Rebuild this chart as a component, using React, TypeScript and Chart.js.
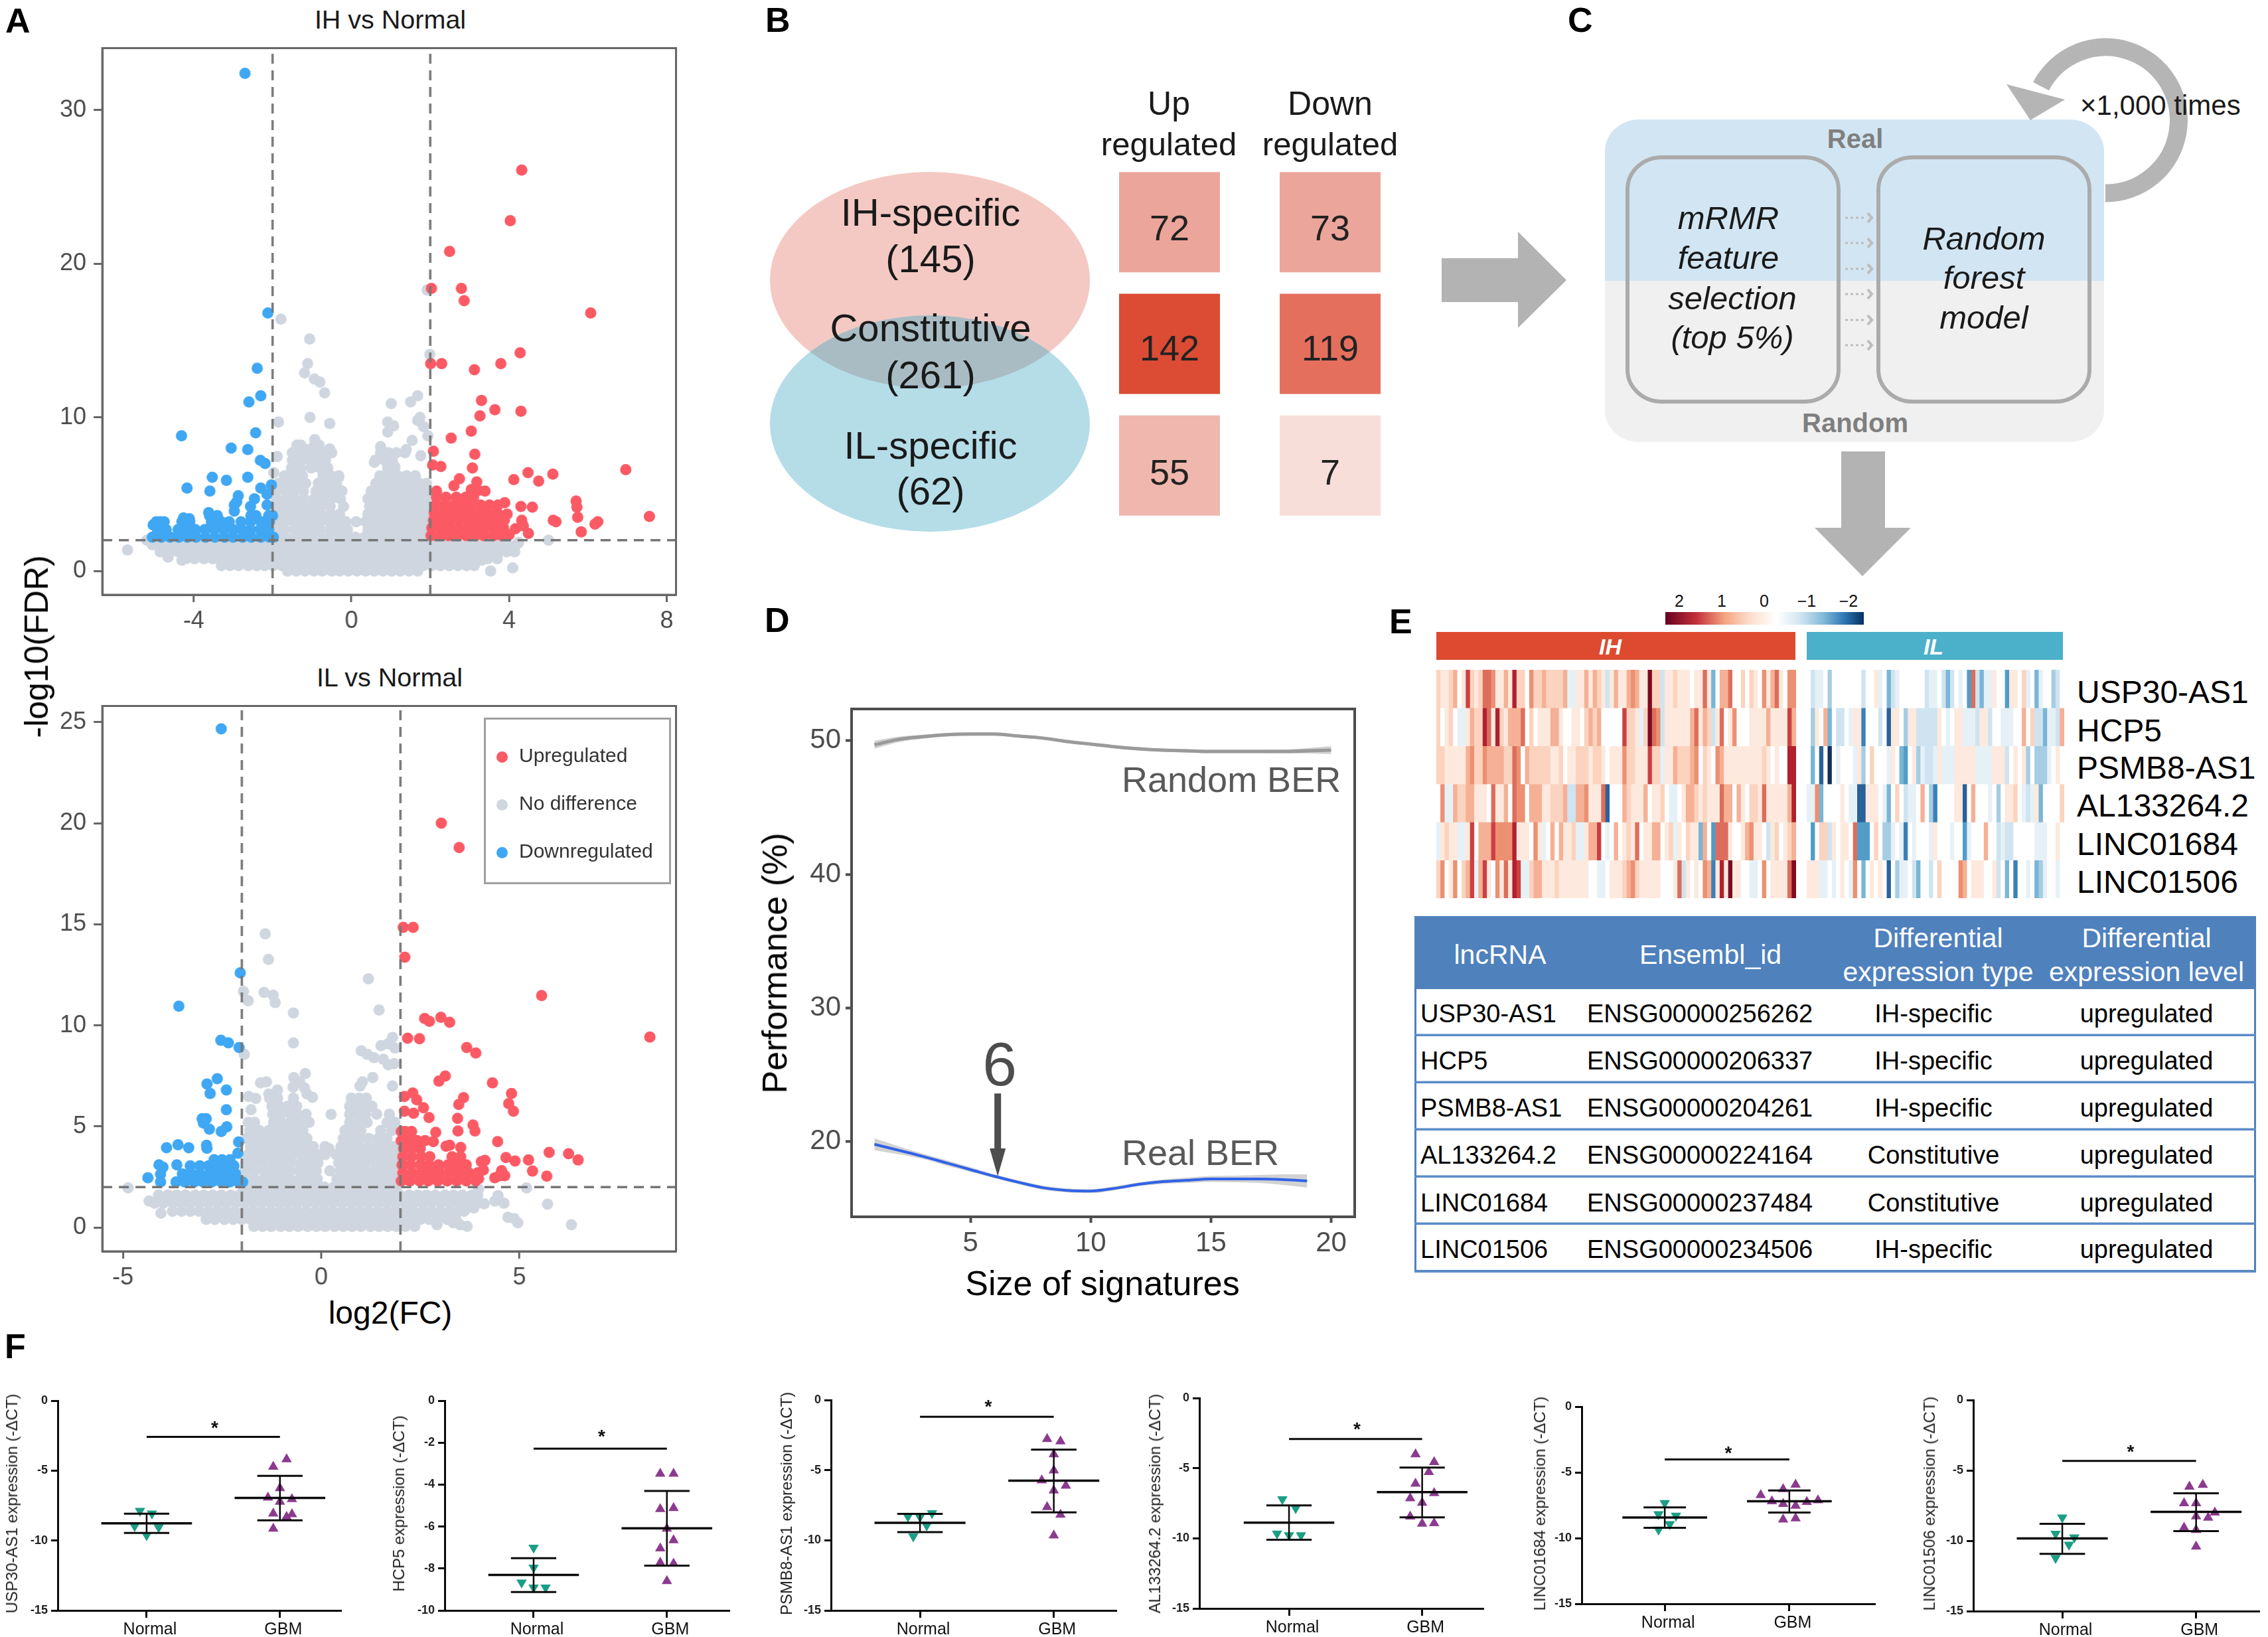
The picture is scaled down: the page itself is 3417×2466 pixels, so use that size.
import React, { useEffect, useRef } from "react";
import { Chart, registerables } from "chart.js";

Chart.register(...registerables);
Chart.defaults.font.family = "'Liberation Sans', Arial, sans-serif";

const FONT = "'Liberation Sans', Arial, sans-serif";

// ---------- Panel A: volcano plots (IH vs Normal) ----------
const greyRowsIH: [number, number[]][] = [
  [0, [-1.62,-1.4,-1.18,-.95,-.74,-.5,-.3,-.08,.14,.36,.58,.8,1.02,1.24,1.46,1.68]],
  [.35, [-3.3,-3.08,-2.86,-2.62,-2.4,-2.2,-1.98,-1.76,-1.52,-1.3,-1.08,-.86,-.62,-.4,-.18,.04,.26,.48,.7,.92,1.16,1.38,1.6,1.82,2.04,2.26,2.48,2.7,2.92,3.12]],
  [.8, [-4.2,-3.98,-3.74,-3.52,-3.3,-3.06,-2.84,-2.62,-2.4,-2.16,-1.94,-1.72,-1.5,-1.26,-1.04,-.82,-.6,-.36,-.14,.08,.3,.54,.76,.98,1.2,1.44,1.66,1.88,2.12,2.34,2.56,2.78,3,3.24,3.46,3.7]],
  [1.25, [-4.85,-4.62,-4.4,-4.18,-3.96,-3.72,-3.5,-3.28,-3.04,-2.82,-2.6,-2.38,-2.14,-1.92,-1.7,-1.48,-1.24,-1.02,-.8,-.58,-.34,-.12,.1,.32,.56,.78,1,1.22,1.46,1.68,1.9,2.14,2.36,2.58,2.8,3.04,3.26,3.48,3.72,3.94,4.14]],
  [1.7, [-5.05,-4.82,-4.6,-4.38,-4.14,-3.92,-3.7,-3.48,-3.24,-3.02,-2.8,-2.58,-2.34,-2.12,-1.9,-1.68,-1.44,-1.22,-1,-.78,-.54,-.32,-.1,.12,.36,.58,.8,1.02,1.26,1.48,1.7,1.92,2.16,2.38,2.6,2.82,3.06,3.28,3.5,3.72,3.96,4.18]],
  [2.2, [-1.92,-1.7,-1.46,-1.24,-1.02,-.8,-.56,-.34,-.12,.1,.34,.56,.78,1,1.24,1.46,1.68,1.9]],
  [2.7, [-1.9,-1.68,-1.44,-1.22,-1,-.78,-.54,-.32,-.1,.42,.64,.86,1.08,1.32,1.54,1.76,1.92]],
  [3.2, [-1.92,-1.7,-1.46,-1.24,-1.02,-.8,-.56,-.34,-.14,.12,.36,.6,.82,1.04,1.28,1.5,1.72,1.92]],
  [3.7, [-1.9,-1.66,-1.44,-1.2,-.98,-.76,-.52,-.3,.42,.64,.86,1.1,1.32,1.54,1.76,1.92]],
  [4.2, [-1.92,-1.7,-1.46,-1.24,-1,-.78,-.54,-.2,.46,.68,.9,1.12,1.36,1.58,1.8,1.94]],
  [4.7, [-1.9,-1.66,-1.44,-1.2,-.94,-.72,-.5,-.28,.42,.64,.86,1.08,1.3,1.52,1.74,1.92]],
  [5.2, [-1.92,-1.68,-1.46,-1.22,-.9,-.68,-.46,-.24,.5,.72,.94,1.16,1.38,1.6,1.82,1.95]],
  [5.7, [-1.85,-1.62,-1.4,-1.16,-.84,-.6,-.38,.62,.84,1.06,1.28,1.5,1.72,1.9]],
  [6.2, [-1.7,-1.46,-1.24,-.72,-.52,-.32,.72,.94,1.18,1.4,1.62]],
  [6.7, [-1.52,-1.28,-1.02,-.8,-.6,.92,1.1]],
  [7.2, [-1.5,-1.3,-1.06,-.86,-.66,.6,.84,1.04]],
  [7.7, [-1.5,-1.36,-1.14,-.88,-.7,-.5,.74,.94,1.14,1.36]],
  [8.2, [-1.38,-1.28,-.94,-.82]],
];
const greyExtraIH: number[][] = [[1.92,18.3],[-1.79,16.4],[-1.06,15.1],[-1.11,13.5],[-1.19,12.9],[-.94,12.5],[-.8,12.3],[-.68,11.6],[1.99,14.1],[1.68,11.4],[1.5,11],[1.01,10.9],[-1.85,9.7],[-1.05,10],[-.55,9.6],[1.74,10],[1.68,9.8],[.92,9.7],[1.07,9.45],[1.83,9.4],[1.94,8.8],[.92,9.05],[1.54,8.5],[-.93,8.55],[-1.38,8.15],[-1.08,7.9],[-.55,7.95],[.74,8.1],[.86,7.6],[1.39,7.9],[-1.88,7.45],[1.76,7.5],[.58,7.07],[1.1,6.8],[-1.97,6.4],[-.32,6.1],[-.79,6.9],[-5.68,1.37],[-5.19,2],[5,2],[3.53,0],[4.09,.2],[3.1,.4],[4.24,1.85],[3.3,.7],[-4.65,.9],[-4.3,.7]];
const blueRowsIH: [number, number[]][] = [
  [2.2, [-5.05,-4.82,-4.6,-4.38,-4.16,-3.94,-3.7,-3.46,-3.22,-3,-2.76,-2.54,-2.3,-2.08,-1.98]],
  [2.7, [-4.92,-4.7,-4.4,-4.18,-3.96,-3.72,-3.48,-3.24,-3,-2.78,-2.56,-2.32,-2.1]],
  [3.2, [-4.95,-4.75,-4.3,-4.1,-3.55,-3.3,-3.1,-2.8,-2.56,-2.3,-2.08]],
  [3.6, [-3.6,-3.4,-2.55,-2.42,-2.1,-2]],
];
const blueExtraIH: number[][] = [[-2.7,32.4],[-2.12,16.8],[-2.39,13.2],[-2.3,11.4],[-2.6,11],[-2.43,9],[-4.31,8.8],[-3.05,8],[-2.63,7.9],[-2.31,7.2],[-2.19,7],[-2.63,6.1],[-3.53,6.1],[-3.17,5.9],[-2.03,5.6],[-2.3,5.4],[-4.17,5.4],[-3.59,5.2],[-2.87,4.9],[-2.91,4.5],[-2.97,4.3],[-2.46,4.7],[-2.14,5],[-2.97,3.9],[-3.62,3.8],[-2.56,4.2],[-2.14,4.3],[-2.5,3.6],[-4.85,3.2],[-5.03,3],[-4.26,3.45],[-4.11,3.4]];
const redRowsIH: [number, number[]][] = [
  [2.3, [2.02,2.24,2.46,2.7,2.92,3.14,3.36,3.6,3.82]],
  [2.8, [2.04,2.28,2.5,2.72,2.96,3.18,3.4,3.64,3.86]],
  [3.3, [2.08,2.3,2.52,2.76,2.98,3.2,3.44,3.66,3.88]],
  [3.8, [2.1,2.34,2.56,2.8,3.02,3.24,3.46,3.7]],
  [4.3, [2.14,2.36,2.6,2.82,3.04,3.28,3.5]],
  [4.8, [2.16,2.4,2.66,2.9,3.1]],
];
const redExtraIH: number[][] = [[4.32,26.1],[4.03,22.8],[2.49,20.8],[2.03,18.4],[2.79,18.4],[2.86,17.6],[6.07,16.8],[4.28,14.2],[3.79,13.5],[2.01,13.5],[2.29,13.5],[3.12,13.1],[3.3,11.1],[3.64,10.5],[4.3,10.4],[3.26,10.1],[3.04,9.1],[2.53,8.65],[2.08,7.8],[3.13,7.6],[2.06,6.9],[2.27,6.8],[3.07,6.7],[6.96,6.6],[5.11,6.3],[4.48,6.4],[4.12,5.95],[4.75,5.85],[2.74,6],[3.18,5.8],[2.6,5.55],[3.04,5.3],[3.39,5.2],[3.22,5.25],[2.16,5.2],[5.7,4.55],[5.72,4.15],[5.74,3.5],[7.56,3.55],[4.3,4.2],[4.59,4.15],[3.89,4.45],[5.12,3.3],[5.19,3.2],[6.25,3.2],[6.18,3.05],[5.83,2.55],[4.49,2.45],[4.32,3.3],[4.36,2.95],[4.16,2.75],[4,2.35],[3.95,3.7],[3.72,4.3]];

// ---------- Panel A: volcano plots (IL vs Normal) ----------
const greyRowsIL: [number, number[]][] = [
  [.05, [-1.7,-1.48,-1.26,-1.02,-.8,-.58,-.34,-.12,.1,.34,.56,.78,1,1.24,1.46,1.68,1.9,2.12,2.36]],
  [.4, [-2.9,-2.68,-2.44,-2.22,-2,-1.78,-1.54,-1.32,-1.1,-.88,-.64,-.42,-.2,.02,.26,.48,.7,.92,1.16,1.38,1.6,1.82,2.06,2.28,2.5,2.72,2.96,3.18,3.4]],
  [.8, [-3.75,-3.52,-3.3,-3.08,-2.84,-2.62,-2.4,-2.18,-1.94,-1.72,-1.5,-1.28,-1.04,-.82,-.6,-.38,-.14,.08,.3,.52,.76,.98,1.2,1.42,1.66,1.88,2.1,2.32,2.56,2.78,3,3.24,3.46,3.6]],
  [1.2, [-4.2,-3.98,-3.74,-3.52,-3.3,-3.06,-2.84,-2.62,-2.4,-2.16,-1.94,-1.72,-1.5,-1.26,-1.04,-.82,-.6,-.36,-.14,.08,.3,.54,.76,.98,1.2,1.44,1.66,1.88,2.12,2.34,2.56,2.78,3.02,3.24,3.46,3.7,3.9]],
  [1.6, [-4.1,-3.86,-3.64,-3.42,-3.18,-2.96,-2.74,-2.52,-2.28,-2.06,-1.84,-1.62,-1.38,-1.16,-.94,-.72,-.48,-.26,-.04,.18,.42,.64,.86,1.08,1.32,1.54,1.76,1.98,2.22,2.44,2.66,2.88,3.12,3.34,3.56,3.8,3.95]],
  [2, [-1.96,-1.72,-1.5,-1.28,-1.04,-.82,-.6,-.36,-.14,.08,.32,.54,.76,.98,1.22,1.44,1.66,1.9]],
  [2.4, [-1.9,-1.68,-1.44,-1.22,-1,-.78,-.54,-.32,-.1,.4,.62,.84,1.08,1.3,1.52,1.74,1.92]],
  [2.8, [-1.92,-1.7,-1.46,-1.24,-1.02,-.8,-.56,-.34,-.12,.22,.48,.7,.92,1.14,1.38,1.6,1.82]],
  [3.2, [-1.9,-1.66,-1.44,-1.2,-.98,-.76,-.52,-.3,-.08,.44,.66,.88,1.1,1.34,1.56,1.78,1.94]],
  [3.6, [-1.84,-1.62,-1.38,-1.16,-.94,-.72,-.48,-.26,-.04,.1,.38,.62,.84,1.06,1.28,1.5,1.72,1.92]],
  [4, [-1.78,-1.54,-1.32,-1.1,-.88,-.64,-.42,-.2,.1,.5,.72,.94,1.18,1.4,1.62,1.84]],
  [4.4, [-1.88,-1.66,-1.44,-1.2,-.98,-.76,-.52,-.36,.56,.76,.98,1.2,1.44,1.66]],
  [4.8, [-1.8,-1.56,-1.32,-1.1,-.88,-.64,-.46,.6,.78,1,1.5,1.78]],
  [5.2, [-1.84,-1.68,-1.2,-1,-.78,-.56,-.3,.72,.94,1.16,1.66,1.86]],
  [5.6, [-1.22,-1.02,-.78,-.6,-.38,.72,.94,1.12,1.4,1.72]],
  [6, [-1.24,-1.06,-.84,-.62,.72,.92,1.1,1.28]],
  [6.4, [-1.3,-1.1,-.7,.76,.96,1.14]],
];
const greyExtraIL: number[][] = [[-1.41,14.53],[-1.33,13.26],[1.19,12.3],[-1.96,11.68],[-1.44,11.63],[-1.21,11.49],[-1.84,11.22],[-1.16,11.13],[-.7,10.61],[1.46,10.76],[-.7,9.13],[1.8,9.4],[1.51,8.99],[1.69,9.09],[1.86,8.88],[-1.94,8.57],[1.01,8.74],[1.16,8.57],[1.33,8.4],[1.57,8.32],[1.69,8.05],[1.84,8.11],[-.4,7.61],[-.69,7.42],[-.54,7.2],[-1.53,7.15],[-1.38,7.2],[1.3,7.42],[1.04,7.2],[.98,7],[1.8,7],[-.71,6.94],[-.42,6.9],[-1.1,6.8],[-1.32,6.6],[-1.83,6.48],[-.22,6.44],[-.36,6.6],[-1.65,6.38],[.25,5.59],[-1.77,5.82],[-4.87,1.96],[5.18,1.96],[3.97,1.9],[5.71,1.15],[6.31,.13],[4.96,.23],[4.71,.5],[4.87,.44],[4.46,1.58],[4.61,1.2],[4.38,1.31],[4.11,1.17],[3.85,.96],[3.62,.85],[3.68,.06],[3.5,.13],[3.33,.23],[2.92,.13],[-4.34,1.31],[-4.04,.71],[.1,3.95],[.2,3.9]];
const blueRowsIL: [number, number[]][] = [
  [2.25, [-3.66,-3.44,-3.2,-2.98,-2.76,-2.52,-2.3,-2.08,-1.98]],
  [2.65, [-3.5,-3.28,-3.06,-2.82,-2.6,-2.38,-2.16]],
  [3.05, [-3.3,-3.06,-2.84,-2.62,-2.4,-2.2]],
  [3.35, [-2.7,-2.5,-2.3]],
];
const blueExtraIL: number[][] = [[-2.52,24.67],[-2.04,12.6],[-3.59,10.95],[-2.53,9.26],[-2.34,9.13],[-2.07,8.9],[-2.62,7.36],[-2.88,7.1],[-2.39,6.8],[-2.8,6.63],[-2.39,5.82],[-3,5.38],[-2.9,5.38],[-2.97,5.17],[-2.38,4.98],[-2.82,4.86],[-2.52,4.75],[-2.08,4.23],[-3.61,4.09],[-2.89,4.07],[-3.9,3.94],[-3.34,3.94],[-2.1,3.67],[-2.88,3.92],[-4.37,2.46],[-4.09,3.1],[-3.99,2.98],[-3.64,3.1],[-4.05,2.25],[-4.05,2.63]];
const redRowsIL: [number, number[]][] = [
  [2.3, [2.02,2.24,2.48,2.7,2.94,3.18,3.42,3.66,3.9]],
  [2.7, [2.06,2.3,2.54,2.78,3,3.24,3.48,3.72,3.95]],
  [3.1, [2.04,2.26,2.5,2.72,2.96,3.2,3.42,3.66]],
  [3.5, [2.06,2.28,2.52,2.74,3.3,3.52]],
  [3.9, [2.08,2.3,2.5]],
  [4.3, [2.02,2.2,2.42]],
  [4.75, [2.02,2.12,2.28]],
];
const redExtraIL: number[][] = [[3.03,20],[3.48,18.8],[2.07,14.85],[2.32,14.85],[2.11,13.37],[5.56,11.47],[8.29,9.42],[2.61,10.34],[2.73,10.2],[3.02,10.4],[3.24,10.15],[2.18,9.36],[2.48,9.34],[3.67,8.9],[3.9,8.63],[3.13,7.49],[2.97,7.24],[4.32,7.15],[4.8,6.63],[4.73,6.13],[4.85,5.75],[3.59,6.42],[3.47,6.09],[2.31,6.65],[2.1,6.48],[2.41,6.32],[2.58,5.92],[2.1,5.75],[2.33,5.65],[2.72,5.44],[3.44,5.4],[3.83,5.07],[3.88,4.77],[3.45,4.77],[2.89,4.71],[4.45,4.25],[2.62,4.3],[2.83,4.25],[3.15,4.02],[3.24,4.07],[3.52,3.96],[5.75,3.71],[6.24,3.65],[6.48,3.34],[5.23,3.34],[4.66,3.46],[4.89,3.29],[4.13,3.32],[4.04,3.25],[5.33,2.79],[5.69,2.54],[4.55,2.81],[4.63,2.56],[4.38,2.46],[4.5,2.56],[3.97,2.42],[4.09,2.84]];

// ---------- Panel B ----------
const bColumns = ["Up regulated", "Down regulated"];
const bUp = [72, 142, 55];
const bDown = [73, 119, 7];
const bUpColors = ["#eca59b", "#dc4b33", "#f0b7ae"];
const bDownColors = ["#eca59b", "#e56f5d", "#f7ded9"];
const bTextShift = [12, 10, 14];

// ---------- Panel D ----------
const dSizes = [1,2,3,4,5,6,7,8,9,10,11,12,13,14,15,16,17,18,19,20];
const randomBER = [49.7,50.1,50.3,50.45,50.5,50.5,50.35,50.2,49.95,49.75,49.55,49.4,49.3,49.25,49.2,49.2,49.2,49.2,49.25,49.3];
const randomUpper = [50,50.3,50.45,50.58,50.62,50.62,50.47,50.32,50.07,49.87,49.67,49.52,49.42,49.37,49.32,49.32,49.33,49.35,49.45,49.6];
const randomLower = [49.4,49.9,50.15,50.32,50.38,50.38,50.23,50.08,49.83,49.63,49.43,49.28,49.18,49.13,49.08,49.08,49.07,49.05,49.05,49];
const realBER = [19.8,19.35,18.9,18.4,17.9,17.4,16.95,16.55,16.35,16.3,16.5,16.8,17,17.1,17.2,17.2,17.2,17.15,17.05];
const realUpper = [20.25,19.65,19.1,18.6,18.08,17.55,17.1,16.7,16.5,16.45,16.65,16.95,17.17,17.3,17.42,17.45,17.5,17.55,17.55];
const realLower = [19.35,19.05,18.7,18.2,17.72,17.25,16.8,16.4,16.2,16.15,16.35,16.65,16.83,16.9,16.98,16.95,16.9,16.75,16.55];

// ---------- Panel E heatmap (level = z-score x 4) ----------
const heatIH: number[][] = [
  [2,1,1,2,3,0,1,6,2,1, 2,5,5,4,1,1,3,1,7,2, 2,0,4,2,2,3,2,2,2,2, 3,-1,-1,1,1,3,1,3,2,1, -2,1,3,1,1,3,4,3,1,1, 8,2,2,-2,1,1,2,1,1,1, 0,1,1,5,1,-4,0,3,3,5, 0,0,2,0,2,1,0,4,1,3, 5,1,0,4,4],
  [2,0,1,2,0,-1,-1,1,3,2, 2,7,5,1,7,2,1,3,3,3, 5,0,2,0,1,1,1,3,3,1, 0,0,1,1,0,2,3,2,3,0, 0,0,0,0,6,2,2,1,-1,2, 8,5,4,-2,1,1,1,1,1,1, 3,5,1,3,2,-2,1,5,0,1, 4,0,0,0,1,1,1,1,3,1, 1,1,1,6,3],
  [2,2,1,1,1,1,1,3,4,2, 2,4,3,3,3,3,2,2,5,4, 0,3,2,2,2,2,2,1,1,2, 0,1,1,2,2,2,1,2,2,1, 0,1,1,1,4,2,2,1,1,1, 6,2,2,-1,1,1,3,2,2,2, 3,4,0,2,1,0,4,3,1,1, 1,1,1,1,1,1,1,2,1,0, 1,0,0,7,7],
  [0,4,-1,-1,3,2,2,3,3,1, 1,1,0,5,1,1,3,0,5,4, 4,0,3,3,3,1,1,2,2,2, 3,-2,-2,3,3,4,1,1,1,5, -7,0,0,0,3,2,1,1,1,3, 0,1,1,2,0,-1,-1,0,1,3, 3,2,1,2,1,1,1,5,3,3, 0,3,1,0,2,2,1,5,1,1, 1,1,1,3,7],
  [-1,1,2,1,1,-1,-1,1,6,0, 3,3,3,6,4,4,4,4,7,1, 1,1,0,4,1,-1,0,3,0,3, 1,1,2,-1,-1,1,3,3,6,0, -1,0,3,0,1,2,1,5,0,1, 1,3,3,0,1,2,-1,1,0,2, 1,1,-4,3,0,-5,5,5,5,1, 0,0,1,3,4,1,1,0,-2,1, 2,0,1,2,3],
  [2,4,0,1,4,0,2,3,6,-1, 3,6,1,0,4,1,5,1,7,6, -1,-1,2,3,3,1,1,1,2,1, 1,1,1,1,1,1,0,0,-1,-1, 0,1,1,1,2,3,4,2,1,1, 1,1,1,0,0,0,1,5,-2,1, 0,1,0,4,3,-6,1,7,1,8, 1,1,0,0,-1,-1,0,4,0,1, 1,1,1,5,8],
];
const heatIL: number[][] = [
  [0,-2,-1,-1,0,-3,0,0,0,0, 0,0,0,-2,0,0,1,-1,0,-4, -2,-1,0,0,0,0,0,0,-2,-1, -1,0,-2,-4,-2,0,-1,0,-5,5, -2,-4,-1,-1,1,0,0,-5,1,1, 0,2,-1,0,-4,-1,0,0,-3,-2, 0],
  [0,-3,1,0,3,-4,0,-2,-2,0, -1,1,1,-6,0,0,0,-2,0,-7, 1,1,0,-3,1,1,-2,-2,-2,-2, -2,1,0,-1,0,1,1,-1,-1,-1, -2,1,1,-2,0,0,-1,-1,-1,0, 0,3,0,2,-2,-2,-4,-1,-1,-2, 3],
  [0,-4,0,-7,0,-8,0,-1,0,0, 0,-1,1,-3,0,2,0,0,0,-1, 1,0,-4,-5,0,1,-3,-1,-2,-2, -1,1,-1,-1,-1,1,1,1,1,1, -1,-1,-1,-1,1,1,1,-2,0,1, 0,1,-3,0,-3,-3,-3,-1,0,1, 0],
  [-1,-1,4,-4,0,0,0,0,1,0, -1,-1,-7,-7,1,1,1,0,-1,-4, 0,2,0,-2,-1,-1,0,3,0,-3, -6,0,0,0,0,1,1,-7,0,3, 0,0,0,-1,0,-3,0,1,1,2, 0,-1,-2,-1,1,-4,0,0,0,0, 2],
  [0,-5,0,2,2,-2,1,0,1,1, 0,5,-5,-5,-5,0,2,0,-3,-3, -1,0,-1,-6,0,-1,0,0,0,-1, 1,0,0,0,-1,0,0,-5,-1,0, 0,0,3,0,0,-2,-1,-2,-2,0, 0,0,0,0,-1,-1,-1,0,0,1, 0],
  [1,1,1,-1,-1,0,-1,0,1,0, -1,4,0,-4,0,1,0,1,0,-7, 0,-3,-1,-1,0,-2,-4,0,0,-2, 0,2,0,0,0,0,4,3,0,1, 1,1,0,0,1,-2,0,-4,0,-6, 0,0,-1,0,-4,-3,-1,0,0,-1, 0],
];
const heatPalette: Record<string, string> = {
  "8": "#7e0b22", "7": "#b1202e", "6": "#cb4042", "5": "#dd6d5c", "4": "#ec9072", "3": "#f5b095", "2": "#fbd3bf", "1": "#fde9dd", "0": "#ffffff",
  "-1": "#e6f1f7", "-2": "#cfe4f0", "-3": "#a5cde3", "-4": "#79b5d6", "-5": "#529cc8", "-6": "#3b80b8", "-7": "#2a6198", "-8": "#11305f",
};
const heatGenes = ["USP30-AS1", "HCP5", "PSMB8-AS1", "AL133264.2", "LINC01684", "LINC01506"];
const colorbarTicks = ["2", "1", "0", "\u22121", "\u22122"];

// ---------- Table ----------
const tableHeaders = [["lncRNA"], ["Ensembl_id"], ["Differential", "expression type"], ["Differential", "expression level"]];
const tableEnsembl = ["ENSG00000256262", "ENSG00000206337", "ENSG00000204261", "ENSG00000224164", "ENSG00000237484", "ENSG00000234506"];
const tableType = ["IH-specific", "IH-specific", "IH-specific", "Constitutive", "Constitutive", "IH-specific"];
const tableLevel = ["upregulated", "upregulated", "upregulated", "upregulated", "upregulated", "upregulated"];

// ---------- Panel F: [offset from group centre, value] ----------
const uspNormal = [[-.05,-7.88],[.04,-8.07],[-.09,-8.97],[.09,-9.05],[0,-9.62]];
const uspGBM = [[.05,-4.19],[-.05,-4.72],[0,-6.25],[-.09,-6.93],[.09,-7.04],[0,-7.23],[-.05,-8.07],[.09,-8.12],[.05,-8.31],[-.05,-9.15]];
const hcpNormal = [[0,-7.01],[0,-7.96],[-.09,-8.67],[0,-8.91],[.09,-8.91]];
const hcpGBM = [[-.05,-3.48],[.05,-3.48],[.05,-5.12],[-.05,-5.17],[0,-6.1],[.05,-6.65],[-.05,-7.04],[-.05,-7.72],[.05,-7.77],[0,-8.6]];
const psmNormal = [[.09,-8.07],[-.09,-8.31],[0,-8.34],[.05,-8.94],[-.05,-9.72]];
const psmGBM = [[-.05,-2.78],[.05,-2.94],[0,-3.87],[0,-5.02],[-.09,-5.73],[.09,-6.1],[0,-6.45],[-.05,-7.63],[.05,-8.18],[0,-9.65]];
const alNormal = [[-.05,-7.22],[.05,-7.85],[-.09,-9.67],[0,-9.78],[.09,-9.78]];
const alGBM = [[-.05,-4.01],[.09,-4.57],[.05,-5.28],[-.05,-6.11],[.09,-6.78],[-.09,-7.14],[0,-7.46],[-.09,-8.45],[0,-8.96],[.09,-8.92]];
const l84Normal = [[0,-7.34],[-.05,-8.18],[.09,-8.3],[.04,-8.94],[-.05,-9.36]];
const l84GBM = [[.05,-5.94],[-.05,-6.27],[-.23,-6.73],[-.14,-7.2],[.23,-7.12],[.14,-7.25],[-.05,-7.4],[.05,-7.54],[-.05,-8.58],[.05,-8.5]];
const l06Normal = [[0,-8.35],[-.05,-9.5],[.09,-9.76],[.05,-10.28],[-.05,-11.23]];
const l06GBM = [[.05,-6.03],[-.05,-6.16],[-.09,-7.34],[0,-7.34],[.14,-8],[0,-8.27],[.09,-8.36],[-.09,-9.07],[0,-9.23],[0,-10.41]];
// [mean, upper, lower]
const fStatsNormal = [[-8.77,-8.08,-9.46],[-8.31,-7.51,-9.12],[-8.75,-8.12,-9.42],[-8.88,-7.65,-10.1],[-8.43,-7.67,-9.22],[-9.83,-8.8,-10.93]];
const fStatsGBM = [[-6.96,-5.38,-8.56],[-6.08,-4.3,-7.86],[-5.75,-3.54,-8.01],[-6.71,-4.96,-8.5],[-7.2,-6.37,-8.06],[-7.95,-6.63,-9.32]];
const fSigBar = [-2.59,-2.29,-1.2,-2.92,-4.01,-4.33];
const fStar = [-1.6,-1.5,-.13,-1.9,-3.19,-3.35];
const fGenes = ["USP30-AS1", "HCP5", "PSMB8-AS1", "AL133264.2", "LINC01684", "LINC01506"];
const fTicks = [[0,-5,-10,-15],[0,-2,-4,-6,-8,-10],[0,-5,-10,-15],[0,-5,-10,-15],[0,-5,-10,-15],[0,-5,-10,-15]];
const fGroups = ["Normal", "GBM"];

// ---------- Helpers ----------
const fromRows = (rows: [number, number[]][], extra: number[][]) => [
  ...rows.flatMap(([y, xs]) => xs.map((x) => ({ x, y }))),
  ...extra.map(([x, y]) => ({ x, y })),
];

function axis(o: any) {
  return {
    type: "linear",
    min: o.min,
    max: o.max,
    afterFit(s: any) {
      if (o.horizontal) s.height = o.fit; else s.width = o.fit;
      s.paddingTop = 0; s.paddingBottom = 0; s.paddingLeft = 0; s.paddingRight = 0;
    },
    afterBuildTicks(s: any) { s.ticks = o.ticks.map((value: number) => ({ value })); },
    ticks: {
      autoSkip: false, maxRotation: 0, color: o.color, padding: o.pad, labelOffset: o.labelOffset || 0,
      font: { size: o.size, weight: o.weight || "normal" },
      callback: (v: number) => (o.labels ? o.labels[v] : String(v)),
    },
    grid: { drawOnChartArea: false, drawTicks: true, tickLength: o.len, tickColor: o.tickColor, tickWidth: o.tickWidth },
    border: { display: true, color: o.tickColor, width: o.tickWidth },
  };
}

const framePlugin = (color: string, width: number) => ({
  id: "frame",
  afterDatasetsDraw(c: any) {
    const { left, top, right, bottom } = c.chartArea, x = c.ctx;
    x.save(); x.strokeStyle = color; x.lineWidth = width;
    x.strokeRect(left, top, right - left, bottom - top); x.restore();
  },
});

const baseOptions = (scales: any, padding: any) => ({
  responsive: false, animation: false, devicePixelRatio: 1,
  layout: { padding },
  plugins: { legend: { display: false }, tooltip: { enabled: false }, title: { display: false } },
  events: [] as string[],
  scales,
});

type Def = { left: number; top: number; width: number; height: number; config: any };

function place(plot: number[], m: number[], build: (padding: any, ml: number, mb: number) => any): Def {
  const [l, t, r, b] = plot, [ml, mt, mr, mb] = m;
  return { left: l - ml, top: t - mt, width: r - l + ml + mr, height: b - t + mt + mb, config: build({ top: mt, right: mr, left: 0, bottom: 0 }, ml, mb) };
}

function volcano(plot: number[], xr: number[], yr: number[], xt: number[], yt: number[], grey: any[], blue: any[], red: any[]): Def {
  return place(plot, [80, 4, 6, 60], (padding, ml, mb) => {
    const dash = (data: any[]) => ({ type: "scatter", data, showLine: true, pointRadius: 0, borderColor: "#767676", borderWidth: 3.5, borderDash: [15, 10], order: 1 });
    const pt = (data: any[], c: string, order: number) => ({ data, backgroundColor: c, pointRadius: 8.5, borderWidth: 0, order });
    return {
      type: "scatter",
      data: { datasets: [
        pt(grey, "#cfd6df", 6), pt(blue, "#3fa7f3", 5), pt(red, "#fb5a65", 5),
        dash([{ x: -2, y: yr[0] }, { x: -2, y: yr[1] }]),
        dash([{ x: 2, y: yr[0] }, { x: 2, y: yr[1] }]),
        dash([{ x: xr[0], y: 2 }, { x: xr[1], y: 2 }]),
      ] },
      options: baseOptions({
        x: axis({ horizontal: true, fit: mb, min: xr[0], max: xr[1], ticks: xt, size: 36, color: "#4d4d4d", pad: 7, len: 11, tickColor: "#666", tickWidth: 3 }),
        y: axis({ fit: ml, min: yr[0], max: yr[1], ticks: yt, size: 36, color: "#4d4d4d", pad: 11, len: 13, tickColor: "#666", tickWidth: 3 }),
      }, padding),
      plugins: [framePlugin("#666", 3)],
    };
  });
}

function heat(plot: number[], rows: number[][]): Def {
  return place(plot, [0, 0, 0, 0], (padding) => ({
    type: "bar",
    data: {
      labels: rows[0].map((_, i) => String(i)),
      datasets: rows.map((row, r) => ({
        data: row.map(() => [rows.length - 1 - r, rows.length - r]),
        backgroundColor: row.map((v) => heatPalette[String(v)]),
        borderWidth: 0, barPercentage: 1, categoryPercentage: 1, grouped: false,
      })),
    },
    options: baseOptions({ x: { display: false }, y: { display: false, min: 0, max: rows.length } }, padding),
  }));
}

function matrixB(): Def {
  const rows = bUp.map((u, i) => [u, bDown[i]]);
  const fills = bUpColors.map((u, i) => [u, bDownColors[i]]);
  return {
    left: 1641, top: 243, width: 484, height: 550,
    config: {
      type: "bar",
      data: {
        labels: bColumns,
        datasets: rows.map((_, r) => ({
          data: bColumns.map(() => [2 - r + 0.088, 3 - r - 0.088]),
          backgroundColor: fills[r], borderWidth: 0, barPercentage: 0.628, categoryPercentage: 1, grouped: false,
        })),
      },
      options: baseOptions({ x: { display: false }, y: { display: false, min: 0, max: 3 } }, 0),
      plugins: [{
        id: "cells",
        afterDatasetsDraw(c: any) {
          const x = c.ctx;
          x.save(); x.font = `54px ${FONT}`; x.fillStyle = "#222"; x.textAlign = "center"; x.textBaseline = "middle";
          rows.forEach((row, r) => row.forEach((v, k) => {
            x.fillText(String(v), c.scales.x.getPixelForValue(k), c.scales.y.getPixelForValue(2.5 - r) + bTextShift[r]);
          }));
          x.restore();
        },
      }],
    },
  };
}

function chartD(): Def {
  const pts = (ys: number[]) => ys.map((y, i) => ({ x: dSizes[i], y }));
  const smooth = { showLine: true, pointRadius: 0, tension: 0.4, cubicInterpolationMode: "monotone" };
  return place([1283, 1068, 2041, 1833], [100, 4, 6, 60], (padding, ml, mb) => ({
    type: "scatter",
    data: { datasets: [
      { ...smooth, data: pts(randomUpper), borderWidth: 0, backgroundColor: "#d2d2d2", fill: "+1", order: 4 },
      { ...smooth, data: pts(randomLower), borderWidth: 0, order: 4 },
      { ...smooth, data: pts(realUpper), borderWidth: 0, backgroundColor: "#d2d2d2", fill: "+1", order: 4 },
      { ...smooth, data: pts(realLower), borderWidth: 0, order: 4 },
      { ...smooth, data: pts(randomBER), borderColor: "#9a9a9a", borderWidth: 5, order: 2 },
      { ...smooth, data: pts(realBER), borderColor: "#2f62e8", borderWidth: 4, order: 2 },
    ] },
    options: baseOptions({
      x: axis({ horizontal: true, fit: mb, min: 0.05, max: 20.98, ticks: [5, 10, 15, 20], size: 42, color: "#4d4d4d", pad: 6, len: 9, tickColor: "#4d4d4d", tickWidth: 4 }),
      y: axis({ fit: ml, min: 14.37, max: 52.38, ticks: [20, 30, 40, 50], size: 42, color: "#4d4d4d", pad: 7, len: 9, tickColor: "#4d4d4d", tickWidth: 4 }),
    }, padding),
    plugins: [framePlugin("#4d4d4d", 4), {
      id: "arrow6",
      afterDatasetsDraw(c: any) {
        const x = c.ctx, px = c.scales.x.getPixelForValue(6.13), top = c.scales.y.getPixelForValue(23.6), tip = c.scales.y.getPixelForValue(17.4);
        x.save(); x.fillStyle = "#4d4d4d";
        x.fillRect(px - 5, top, 10, tip - top - 40);
        x.beginPath(); x.moveTo(px - 12, tip - 42); x.lineTo(px + 12, tip - 42); x.lineTo(px, tip); x.closePath(); x.fill();
        x.restore();
      },
    }],
  }));
}

const fGeometry = [
  [86.5, 517, 2110, 2426, 221.5, 424],
  [669.6, 1102, 2110, 2426, 804.6, 1007],
  [1252, 1685, 2109, 2426, 1387, 1590],
  [1807, 2238, 2106, 2423, 1943, 2145],
  [2383, 2828, 2119, 2416, 2509, 2698],
  [2973, 3407, 2109, 2427, 3108, 3311],
];
const fPointsNormal = [uspNormal, hcpNormal, psmNormal, alNormal, l84Normal, l06Normal];
const fPointsGBM = [uspGBM, hcpGBM, psmGBM, alGBM, l84GBM, l06GBM];

function chartF(i: number): Def {
  const [l, r, t, b, cN, cG] = fGeometry[i];
  const unit = cG - cN, xmin = 1 - (cN - l) / unit, xmax = 2 + (r - cG) / unit;
  const ticks = fTicks[i];
  const seg = (x1: number, y1: number, x2: number, y2: number, w = 3) => ({ data: [{ x: x1, y: y1 }, { x: x2, y: y2 }], showLine: true, pointRadius: 0, borderColor: "#0a0a0a", borderWidth: w, order: 1 });
  const stat = (c: number, s: number[]) => [seg(c - .34, s[0], c + .34, s[0], 3.5), seg(c - .17, s[1], c + .17, s[1]), seg(c - .17, s[2], c + .17, s[2]), seg(c, s[1], c, s[2], 2.5)];
  const tri = (c: number, pts: number[][], color: string, rot: number) => ({
    data: pts.map(([d, y]) => ({ x: c + d, y })), pointStyle: "triangle", pointRadius: 9, pointRotation: rot, backgroundColor: color, borderWidth: 0, order: 3, clip: false,
  });
  return place([l, t, r, b], [62, 12, 6, 50], (padding, ml, mb) => ({
    type: "scatter",
    data: { datasets: [
      tri(1, fPointsNormal[i], "#1b9e84", 180), tri(2, fPointsGBM[i], "#8c3a8f", 0),
      ...stat(1, fStatsNormal[i]), ...stat(2, fStatsGBM[i]),
      seg(1, fSigBar[i], 2, fSigBar[i]),
    ] },
    options: baseOptions({
      x: axis({ horizontal: true, fit: mb, min: xmin, max: xmax, ticks: [1, 2], labels: { 1: fGroups[0], 2: fGroups[1] }, size: 25, color: "#111", pad: 3, labelOffset: 5, len: 11, tickColor: "#0a0a0a", tickWidth: 3 }),
      y: axis({ fit: ml, min: ticks[ticks.length - 1], max: 0, ticks, size: 18, weight: "bold", color: "#222", pad: 5, len: 10, tickColor: "#0a0a0a", tickWidth: 3 }),
    }, padding),
    plugins: [{
      id: "star",
      afterDatasetsDraw(c: any) {
        const x = c.ctx;
        x.save(); x.font = `bold 28px ${FONT}`; x.fillStyle = "#111"; x.textAlign = "center"; x.textBaseline = "alphabetic";
        x.fillText("*", c.scales.x.getPixelForValue(1.51), c.scales.y.getPixelForValue(fStar[i]) + 16);
        x.restore();
      },
    }],
  }));
}

const defs: Def[] = [
  volcano([154.4, 68, 1021, 896], [-6.32, 8.235], [-1.55, 34.04], [-4, 0, 4, 8], [0, 10, 20, 30], fromRows(greyRowsIH, greyExtraIH), fromRows(blueRowsIH, blueExtraIH), fromRows(redRowsIH, redExtraIH)),
  volcano([154.4, 1059, 1021, 1885], [-5.52, 8.95], [-1.18, 25.8], [-5, 0, 5], [0, 5, 10, 15, 20, 25], fromRows(greyRowsIL, greyExtraIL), fromRows(blueRowsIL, blueExtraIL), fromRows(redRowsIL, redExtraIL)),
  matrixB(),
  chartD(),
  heat([2164, 1009, 2706, 1353], heatIH),
  heat([2722, 1009, 3110, 1353], heatIL),
  ...fGeometry.map((_, i) => chartF(i)),
];

// ---------- Text ----------
function T({ x, y, s, c = "#1a1a1a", b, i, r, a = "c", children }: any) {
  return (
    <div style={{
      position: "absolute", left: x, top: y, fontFamily: FONT, fontSize: s, color: c, fontWeight: b ? "bold" : "normal", fontStyle: i ? "italic" : "normal",
      lineHeight: 1, whiteSpace: "nowrap", transform: `translate(${a === "c" ? "-50%" : "0"}, -50%)${r ? ` rotate(${r}deg)` : ""}`,
    }}>{children}</div>
  );
}

const fLabelX = [18, 601, 1185, 1740, 2320, 2907];
const geneRowY = [1043, 1101, 1157, 1214, 1272, 1329];
const tableRowY = [1527, 1598, 1669, 1740, 1812, 1882];
const tableSepY = [1559, 1630, 1701, 1772, 1843, 1915];
const smallArrowY = [328, 366, 405, 443, 482, 520];
const cbX = [2530, 2594, 2658, 2722, 2785];

export default function App() {
  const refs = useRef<(HTMLCanvasElement | null)[]>([]);
  useEffect(() => {
    const charts = defs.map((d, i) => new Chart(refs.current[i] as HTMLCanvasElement, d.config));
    return () => charts.forEach((c) => c.destroy());
  }, []);

  return (
    <div style={{ position: "absolute", left: 0, top: 0, width: 3417, height: 2466, overflow: "hidden", background: "#fff" }}>
      <svg width={3417} height={2466} style={{ position: "absolute", left: 0, top: 0 }}>
        <defs>
          <clipPath id="vennTop"><ellipse cx={1401} cy={422} rx={241} ry={163} /></clipPath>
          <clipPath id="realHalf"><rect x={2400} y={170} width={800} height={253} /></clipPath>
          <linearGradient id="cb" x1="0" x2="1" y1="0" y2="0">
            <stop offset="0" stopColor="#67001f" />
            <stop offset=".16" stopColor="#c4333b" />
            <stop offset=".3" stopColor="#f4a582" />
            <stop offset=".42" stopColor="#fcdcc9" />
            <stop offset=".56" stopColor="#ffffff" />
            <stop offset=".68" stopColor="#d1e5f0" />
            <stop offset=".8" stopColor="#7fb8d8" />
            <stop offset=".9" stopColor="#2f78b4" />
            <stop offset="1" stopColor="#053061" />
          </linearGradient>
        </defs>
        {/* Venn */}
        <ellipse cx={1401} cy={422} rx={241} ry={163} fill="#f4c9c3" />
        <ellipse cx={1401} cy={638} rx={241} ry={163} fill="#b4dde8" />
        <ellipse cx={1401} cy={638} rx={241} ry={163} fill="#a9bcc4" clipPath="url(#vennTop)" />
        {/* Arrows */}
        <polygon points="2172,389 2287,389 2287,349 2360,422 2287,494 2287,455 2172,455" fill="#b3b3b3" />
        <polygon points="2774,680 2840,680 2840,795 2879,795 2806,868 2734,795 2774,795" fill="#b3b3b3" />
        {/* Panel C */}
        <rect x={2418} y={180} width={752} height={486} rx={52} ry={48} fill="#f0f0f0" />
        <rect x={2418} y={180} width={752} height={486} rx={52} ry={48} fill="#d2e5f3" clipPath="url(#realHalf)" />
        <rect x={2452} y={237} width={318} height={368} rx={52} ry={48} fill="none" stroke="#ababab" strokeWidth={6} />
        <rect x={2830} y={237} width={318} height={368} rx={52} ry={48} fill="none" stroke="#ababab" strokeWidth={6} />
        <path d="M3172 291 A110 110 0 1 0 3075 130" fill="none" stroke="#b5b5b5" strokeWidth={27} />
        <polygon points="3023,127 3111,150 3059,181" fill="#b5b5b5" />
        {smallArrowY.map((y) => (
          <g key={y} fill="none" stroke="#bdbdbd" strokeWidth={3}>
            <line x1={2780} y1={y} x2={2812} y2={y} strokeDasharray="4 4" />
            <polyline points={`2814,${y - 7} 2820,${y} 2814,${y + 7}`} strokeWidth={4} />
          </g>
        ))}
        {/* Panel E */}
        <rect x={2509} y={922} width={299} height={19} fill="url(#cb)" />
        <rect x={2164} y={952} width={541} height={42} fill="#dd4a2f" />
        <rect x={2722} y={952} width={386} height={42} fill="#4bb0c9" />
        {/* Table */}
        <rect x={2132.5} y={1381.5} width={1265} height={533} fill="#fff" stroke="#4f81bd" strokeWidth={3} />
        <rect x={2131} y={1380} width={1268} height={110} fill="#4f81bd" />
        {tableSepY.map((y) => <rect key={y} x={2131} y={y - 1.5} width={1268} height={3.5} fill="#5b8bc7" />)}
      </svg>

      {defs.map((d, i) => (
        <canvas key={i} ref={(el) => { refs.current[i] = el; }} width={d.width} height={d.height}
          style={{ position: "absolute", left: d.left, top: d.top, width: d.width, height: d.height }} />
      ))}

      {/* Panel letters */}
      <T x={8} y={31} s={52} b c="#000" a="l">A</T>
      <T x={1153} y={30} s={52} b c="#000" a="l">B</T>
      <T x={2362} y={30} s={52} b c="#000" a="l">C</T>
      <T x={1152} y={934} s={52} b c="#000" a="l">D</T>
      <T x={2093} y={936} s={52} b c="#000" a="l">E</T>
      <T x={7} y={2028} s={52} b c="#000" a="l">F</T>

      {/* Panel A text */}
      <T x={588} y={30} s={39.5}>IH vs Normal</T>
      <T x={587} y={1021} s={39.5}>IL vs Normal</T>
      <T x={55} y={974} s={50} c="#000" r={-90}>-log10(FDR)</T>
      <T x={588} y={1978} s={48} c="#000">log2(FC)</T>
      <div style={{ position: "absolute", left: 729, top: 1081, width: 276, height: 245, border: "3px solid #a0a0a0", boxSizing: "content-box" }} />
      {[["Upregulated", "#fb5a65", 1140], ["No difference", "#cfd6df", 1212], ["Downregulated", "#3fa7f3", 1284]].map(([t, c, y]: any) => (
        <React.Fragment key={t}>
          <div style={{ position: "absolute", left: 748, top: y - 8.5, width: 17, height: 17, borderRadius: "50%", background: c }} />
          <T x={782} y={y - 2} s={30} c="#333" a="l">{t}</T>
        </React.Fragment>
      ))}

      {/* Panel B text */}
      <T x={1761} y={156} s={50}>Up</T>
      <T x={1761} y={217} s={49}>regulated</T>
      <T x={2004} y={156} s={50}>Down</T>
      <T x={2004} y={217} s={49}>regulated</T>
      <T x={1402} y={320} s={58}>IH-specific</T>
      <T x={1402} y={390} s={58}>(145)</T>
      <T x={1402} y={494} s={58}>Constitutive</T>
      <T x={1402} y={565} s={58}>(261)</T>
      <T x={1402} y={671} s={58}>IL-specific</T>
      <T x={1402} y={740} s={58}>(62)</T>

      {/* Panel C text */}
      <T x={2795} y={209} s={40} b c="#7f7f7f">Real</T>
      <T x={2795} y={637} s={40} b c="#7f7f7f">Random</T>
      <T x={2604} y={328} s={49} i>mRMR</T>
      <T x={2604} y={388} s={49} i>feature</T>
      <T x={2610} y={449} s={49} i>selection</T>
      <T x={2610} y={508} s={49} i>(top 5%)</T>
      <T x={2989} y={359} s={49} i>Random</T>
      <T x={2989} y={418} s={49} i>forest</T>
      <T x={2989} y={478} s={49} i>model</T>
      <T x={3134} y={159} s={42} a="l">×1,000 times</T>

      {/* Panel D text */}
      <T x={1167} y={1451} s={52} c="#000" r={-90}>Performance (%)</T>
      <T x={1661} y={1933} s={52} c="#000">Size of signatures</T>
      <T x={1690} y={1174} s={54} c="#595959" a="l">Random BER</T>
      <T x={1690} y={1736} s={54} c="#595959" a="l">Real BER</T>
      <T x={1506} y={1603} s={93} c="#4d4d4d">6</T>

      {/* Panel E text */}
      {colorbarTicks.map((t, i) => <T key={t} x={cbX[i]} y={905} s={25} c="#111">{t}</T>)}
      <T x={2426} y={974} s={34} b i c="#fff">IH</T>
      <T x={2913} y={974} s={34} b i c="#fff">IL</T>
      {heatGenes.map((g, i) => <T key={g} x={3129} y={geneRowY[i]} s={48} c="#000" a="l">{g}</T>)}

      {/* Table text */}
      <T x={2260} y={1438} s={41} c="#fff">{tableHeaders[0][0]}</T>
      <T x={2577} y={1438} s={41} c="#fff">{tableHeaders[1][0]}</T>
      <T x={2920} y={1413} s={41} c="#fff">{tableHeaders[2][0]}</T>
      <T x={2920} y={1464} s={41} c="#fff">{tableHeaders[2][1]}</T>
      <T x={3234} y={1413} s={41} c="#fff">{tableHeaders[3][0]}</T>
      <T x={3234} y={1464} s={41} c="#fff">{tableHeaders[3][1]}</T>
      {heatGenes.map((g, i) => (
        <React.Fragment key={g}>
          <T x={2140} y={tableRowY[i]} s={38} c="#000" a="l">{g}</T>
          <T x={2391} y={tableRowY[i]} s={38} c="#000" a="l">{tableEnsembl[i]}</T>
          <T x={2913} y={tableRowY[i]} s={38} c="#000">{tableType[i]}</T>
          <T x={3234} y={tableRowY[i]} s={38} c="#000">{tableLevel[i]}</T>
        </React.Fragment>
      ))}

      {/* Panel F axis titles */}
      {fGenes.map((g, i) => <T key={g} x={fLabelX[i]} y={2265} s={24} c="#222" r={-90}>{`${g} expression (-\u0394CT)`}</T>)}
    </div>
  );
}
